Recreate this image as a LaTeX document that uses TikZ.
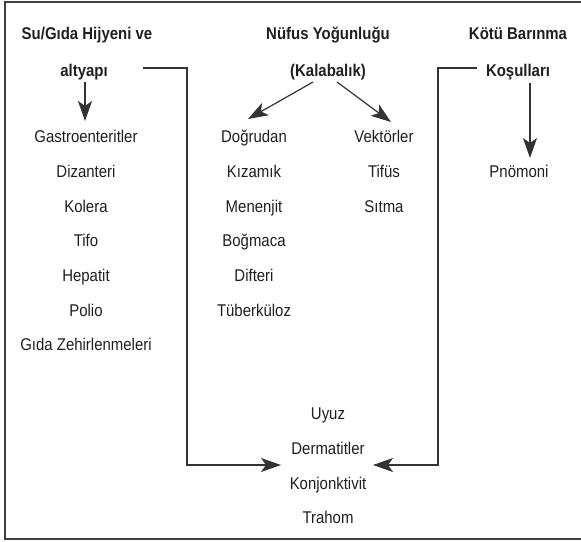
\documentclass[tikz,border=0pt]{standalone}
\usepackage{fontspec}
\setmainfont{Liberation Sans}[FakeStretch=0.88]
\usetikzlibrary{arrows.meta}
\tikzset{
  lbl/.style={inner sep=0pt, anchor=base, text=black!88, font=\fontsize{17}{20}\selectfont},
  hdr/.style={lbl, font=\fontsize{17}{20}\selectfont\bfseries},
  conn/.style={draw=black!80, line width=1.2pt},
  arr/.style={conn, -{Stealth[length=20pt,width=14pt,inset=5pt]}},
  frame/.style={draw=black!75, line width=1.8pt}
}
\begin{document}
\begin{tikzpicture}[x=1pt,y=-1pt]
\useasboundingbox (0,0) rectangle (581,541);
\draw[frame] (583,2) -- (5,2) -- (5,539) -- (583,539);
% headers
\node[hdr] (su) at (87,39) {Su/Gıda Hijyeni ve};
\node[hdr] (alt) at (84,76) {altyapı};
\node[hdr] (nuf) at (328,39) {Nüfus Yoğunluğu};
\node[hdr] (kal) at (328,76) {(Kalabalık)};
\node[hdr] (kot) at (518,39) {Kötü Barınma};
\node[hdr] (kos) at (518,76) {Koşulları};
% left column
\node[lbl] (gas) at (86,142) {Gastroenteritler};
\node[lbl] (diz) at (86,177) {Dizanteri};
\node[lbl] (kol) at (86,212) {Kolera};
\node[lbl] (tifo) at (86,246) {Tifo};
\node[lbl] (hep) at (86,281) {Hepatit};
\node[lbl] (pol) at (86,316) {Polio};
\node[lbl] (gida) at (86,350) {Gıda Zehirlenmeleri};
% middle
\node[lbl] (dog) at (254,142) {Doğrudan};
\node[lbl] (kiz) at (254,177) {Kızamık};
\node[lbl] (men) at (254,212) {Menenjit};
\node[lbl] (bog) at (254,246) {Boğmaca};
\node[lbl] (dif) at (254,281) {Difteri};
\node[lbl] (tub) at (254,316) {Tüberküloz};
\node[lbl] (vek) at (384,142) {Vektörler};
\node[lbl] (tifus) at (384,177) {Tifüs};
\node[lbl] (sit) at (384,212) {Sıtma};
% right
\node[lbl] (pno) at (519,177) {Pnömoni};
% bottom
\node[lbl] (uyuz) at (328,419) {Uyuz};
\node[lbl] (der) at (328,454) {Dermatitler};
\node[lbl] (kon) at (328,489) {Konjonktivit};
\node[lbl] (tra) at (328,523) {Trahom};
% coordinates
\coordinate (a1s) at (85,82);
\coordinate (a1e) at (85,121);
\coordinate (k1s) at (313,82);
\coordinate (k1e) at (248,119);
\coordinate (k2s) at (337,82);
\coordinate (k2e) at (391,122);
\coordinate (r1s) at (530,83);
\coordinate (r1e) at (530,158);
\coordinate (ls) at (143,68);
\coordinate (lc) at (187,68);
\coordinate (lt) at (281,465);
\coordinate (rs) at (477,68);
\coordinate (rc) at (438,68);
\coordinate (rt) at (373,465);
% connectors
\draw[arr] (a1s) -- (a1e);
\draw[arr] (k1s) -- (k1e);
\draw[arr] (k2s) -- (k2e);
\draw[arr] (r1s) -- (r1e);
\draw[arr] (ls) -- (lc) |- (lt);
\draw[arr] (rs) -- (rc) |- (rt);
\end{tikzpicture}
\end{document}
